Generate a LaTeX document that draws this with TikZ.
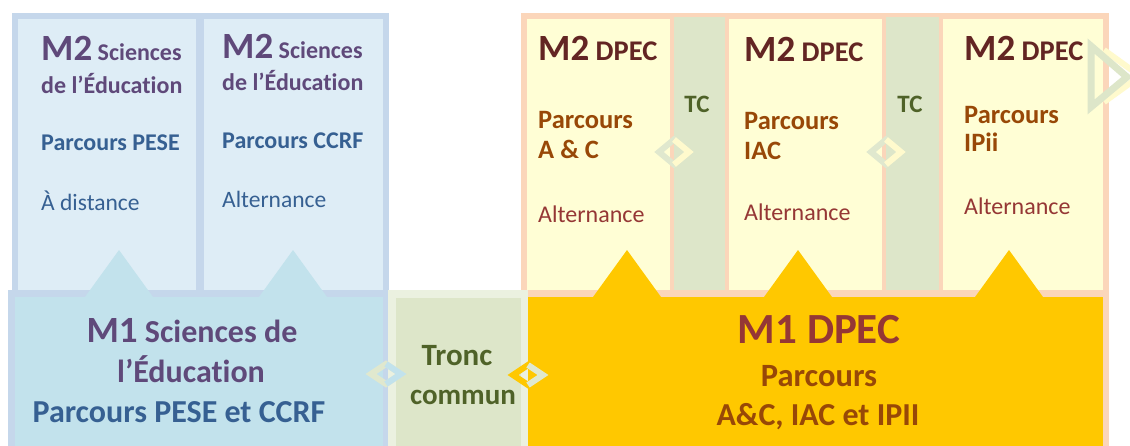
\documentclass[tikz,border=0pt]{standalone}
\usepackage{fontspec}
\setmainfont{Carlito}[Ligatures=NoCommon]
\usepackage{tikz}

\definecolor{cBlueRim}{RGB}{197,215,235}
\definecolor{cBluePale}{RGB}{222,237,246}
\definecolor{cCyan}{RGB}{194,226,236}
\definecolor{cPeach}{RGB}{251,214,186}
\definecolor{cCream}{RGB}{255,254,213}
\definecolor{cTC}{RGB}{221,230,201}
\definecolor{cTroncRim}{RGB}{235,241,224}
\definecolor{cGold}{RGB}{255,200,0}
\definecolor{cPurple}{RGB}{95,73,122}
\definecolor{cBlueText}{RGB}{54,96,146}
\definecolor{cMaroon}{RGB}{99,37,35}
\definecolor{cBrown}{RGB}{152,72,7}
\definecolor{cRust}{RGB}{149,55,53}
\definecolor{cOlive}{RGB}{79,98,40}
\definecolor{cPaleGreen}{RGB}{224,232,206}
\definecolor{cPaleYellow}{RGB}{255,250,205}

\newcommand{\cochu}[1]{\fontsize{#1}{#1}\selectfont}

\tikzset{
chu/.style={anchor=base west,inner sep=0pt},
chugiua/.style={anchor=base,inner sep=0pt}
}

\begin{document}
\begin{tikzpicture}[line join=miter,x=1pt,y=-1pt]
\useasboundingbox (0,0) rectangle (1130,445);
\clip (0,0) rectangle (1130,445);
\fill[white] (0,0) rectangle (1130,445);
% Vẽ hai khung M2 Sciences de l'Éducation
\fill[cBlueRim] (12,13) rectangle (389,293);
\fill[cBluePale] (18,19) rectangle (196,293);
\fill[cBluePale] (204,19) rectangle (383,293);
% Vẽ ba khung M2 DPEC và hai dải TC
\fill[cPeach] (521,13) rectangle (1109,297);
\foreach \a/\b in {527/670,729/882,943/1103}
\fill[cCream] (\a,19) rectangle (\b,297);
\foreach \a/\b in {674/725,886/939}
\fill[cTC] (\a,17) rectangle (\b,297);
% Vẽ khung M1 bên trái, M1 DPEC và Tronc commun
\draw[line width=6.5pt,cBlueRim,fill=cCyan] (11.25,293.25) rectangle (385.75,460);
\draw[line width=6.5pt,cPeach,fill=cGold] (524.25,293.25) rectangle (1105.75,460);
\draw[line width=7.5pt,cTroncRim,fill=cTC] (391.75,293.75) rectangle (524.25,460);
% Vẽ các tam giác nối
\foreach \x in {119,293}
\fill[cCyan] (\x,250) -- ++(-34,47) -- ++(68,0) -- cycle;
\foreach \x in {627,798,1009}
\fill[cGold] (\x,250) -- ++(-34,47) -- ++(68,0) -- cycle;
% Vẽ các hình thoi
\foreach \x/\y/\h/\l/\r in {386/374/10/cPaleGreen/cCyan,528/375/10/cGold/cPaleGreen,
674/152/12.5/cPaleGreen/cPaleYellow,886/152/12.5/cPaleGreen/cPaleYellow}
{
\draw[line width=6pt,\l] (\x,\y-\h) -- (\x-15,\y) -- (\x,\y+\h) -- (\x+15,\y) -- cycle;
\draw[line width=6pt,\r] (\x,\y-\h) -- (\x+15,\y) -- (\x,\y+\h);
}
% Mũi tên ở mép phải
\draw[line width=6pt,cPaleYellow] (1104,50) -- (1140,76) -- (1104,102);
\draw[line width=7pt,cTC] (1091,46) -- (1091,107) -- (1127,77) -- cycle;

%Chữ trong hai khung M2 Sciences
\node[chu,text=cPurple,font=\bfseries\cochu{24}] (pese1) at (41,60) {{\cochu{37}M2} Sciences};
\node[chu,text=cPurple,font=\bfseries\cochu{24}] (pese2) at (41,93) {de l’Éducation};
\node[chu,text=cBlueText,font=\bfseries\cochu{24}] (pese3) at (41,150) {Parcours PESE};
\node[chu,text=cBlueText,font=\cochu{23.5}] (pese4) at (41,210) {À distance};
\node[chu,text=cPurple,font=\bfseries\cochu{24}] (ccrf1) at (222,58) {{\cochu{37}M2} Sciences};
\node[chu,text=cPurple,font=\bfseries\cochu{24}] (ccrf2) at (222,90) {de l’Éducation};
\node[chu,text=cBlueText,font=\bfseries\cochu{24}] (ccrf3) at (222,148) {Parcours CCRF};
\node[chu,text=cBlueText,font=\cochu{23.5}] (ccrf4) at (222,207) {Alternance};
%Chữ trong ba khung M2 DPEC
\node[chu,text=cMaroon,font=\bfseries\cochu{28.5}] (ac1) at (538,60) {{\cochu{37}M2} DPEC};
\node[chu,text=cBrown,font=\bfseries\cochu{26.5}] (ac2) at (538,128) {Parcours};
\node[chu,text=cBrown,font=\bfseries\cochu{26.5}] (ac3) at (538,158) {A \& C};
\node[chu,text=cRust,font=\cochu{24}] (ac4) at (538,222) {Alternance};
\node[chu,text=cMaroon,font=\bfseries\cochu{28.5}] (iac1) at (744,61) {{\cochu{37}M2} DPEC};
\node[chu,text=cBrown,font=\bfseries\cochu{26.5}] (iac2) at (744,129) {Parcours};
\node[chu,text=cBrown,font=\bfseries\cochu{26.5}] (iac3) at (744,159) {IAC};
\node[chu,text=cRust,font=\cochu{24}] (iac4) at (744,220) {Alternance};
\node[chu,text=cMaroon,font=\bfseries\cochu{28.5}] (ipii1) at (964,60) {{\cochu{37}M2} DPEC};
\node[chu,text=cBrown,font=\bfseries\cochu{26.5}] (ipii2) at (964,123) {Parcours};
\node[chu,text=cBrown,font=\bfseries\cochu{26.5}] (ipii3) at (964,151) {IPii};
\node[chu,text=cRust,font=\cochu{24}] (ipii4) at (964,214) {Alternance};
\node[chugiua,text=cOlive,font=\bfseries\cochu{25}] (tc1) at (697,112) {TC};
\node[chugiua,text=cOlive,font=\bfseries\cochu{25}] (tc2) at (910,112) {TC};
%Chữ ở hàng dưới
\node[chugiua,text=cPurple,font=\bfseries\cochu{32}] (m1a) at (192,342) {{\cochu{37}M1} Sciences de};
\node[chugiua,text=cPurple,font=\bfseries\cochu{32}] (m1b) at (191,382) {l’Éducation};
\node[chugiua,text=cBlueText,font=\bfseries\cochu{32}] (m1c) at (179,422) {Parcours PESE et CCRF};
\node[chugiua,text=cOlive,font=\bfseries\cochu{31}] (tronc1) at (457,365) {Tronc};
\node[chugiua,text=cOlive,font=\bfseries\cochu{29}] (tronc2) at (463,404) {commun};
\node[chugiua,text=cRust,font=\bfseries\cochu{43}] (dpec1) at (819,343) {M1 DPEC};
\node[chugiua,text=cBrown,font=\bfseries\cochu{32.5}] (dpec2) at (819,386) {Parcours};
\node[chugiua,text=cBrown,font=\bfseries\cochu{32}] (dpec3) at (818,425) {A\&C, IAC et IPII};
\end{tikzpicture}
\end{document}
